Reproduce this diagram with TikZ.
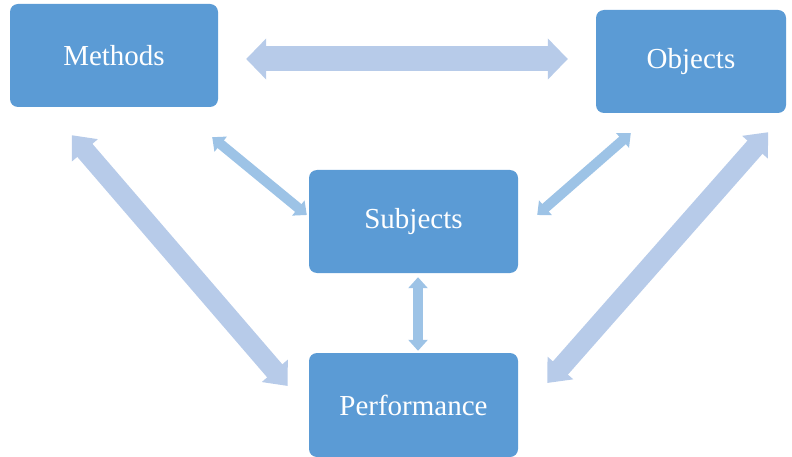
\documentclass[tikz,border=0pt]{standalone}
\usepackage{fontspec}
\setmainfont{Liberation Serif}
\usetikzlibrary{arrows.meta}
\definecolor{boxblue}{HTML}{5B9BD5}
\definecolor{widecol}{HTML}{B7CBE9}
\definecolor{thincol}{HTML}{9DC3E6}
\tikzset{
	area/.style={rectangle, rounded corners=8pt, fill=boxblue, 
		text=white, font=\fontsize{29}{34}\selectfont, minimum width=209pt, 
		minimum height=103pt, inner sep=0pt},
	widelink/.style={draw=widecol, line width=20pt, 
		{Triangle[length=20pt,width=33pt]}-{Triangle[length=20pt,width=33pt]}},
	flatlink/.style={draw=widecol, line width=25pt, 
		{Triangle[length=20pt,width=40pt]}-{Triangle[length=20pt,width=40pt]}},
	thinlink/.style={draw=thincol, line width=10pt, 
		{Triangle[length=11pt,width=19pt]}-{Triangle[length=11pt,width=19pt]}}
}
\begin{document}
\begin{tikzpicture}[x=1pt, y=-1pt]
			\useasboundingbox (0,0) rectangle (792,457);
			\node[area, minimum width=208pt] (methods) at (114,55.5) {Methods};
			\node[area, minimum width=190pt] (objects) at (691,61.5) {Objects};
			\node[area] (subjects) at (413.5,221.5) {Subjects};
			\node[area, minimum height=104pt] (perf) at (413.5,405) {Performance};
			
			% wide links
			\draw[flatlink] ([shift={(28,3.5)}]methods.east) -- ([shift={(-28,-2.5)}]objects.west);
			\draw[widelink] ([shift={(62,28)}]methods.south west) -- ([shift={(-21,-19)}]perf.west);
			\draw[widelink] ([shift={(-18,19)}]objects.south east) -- ([shift={(29,-22)}]perf.east);
			
			% thin links to subjects
			\draw[thinlink] ([shift={(-6,30)}]methods.south east) -- ([shift={(-2,-6.5)}]subjects.west);
			\draw[thinlink] ([shift={(35,20)}]objects.south west) -- ([shift={(19,-6.5)}]subjects.east);
			\draw[thinlink] ([shift={(4.5,4)}]subjects.south) -- ([shift={(4.5,-2)}]perf.north);
		\end{tikzpicture}
\end{document}
